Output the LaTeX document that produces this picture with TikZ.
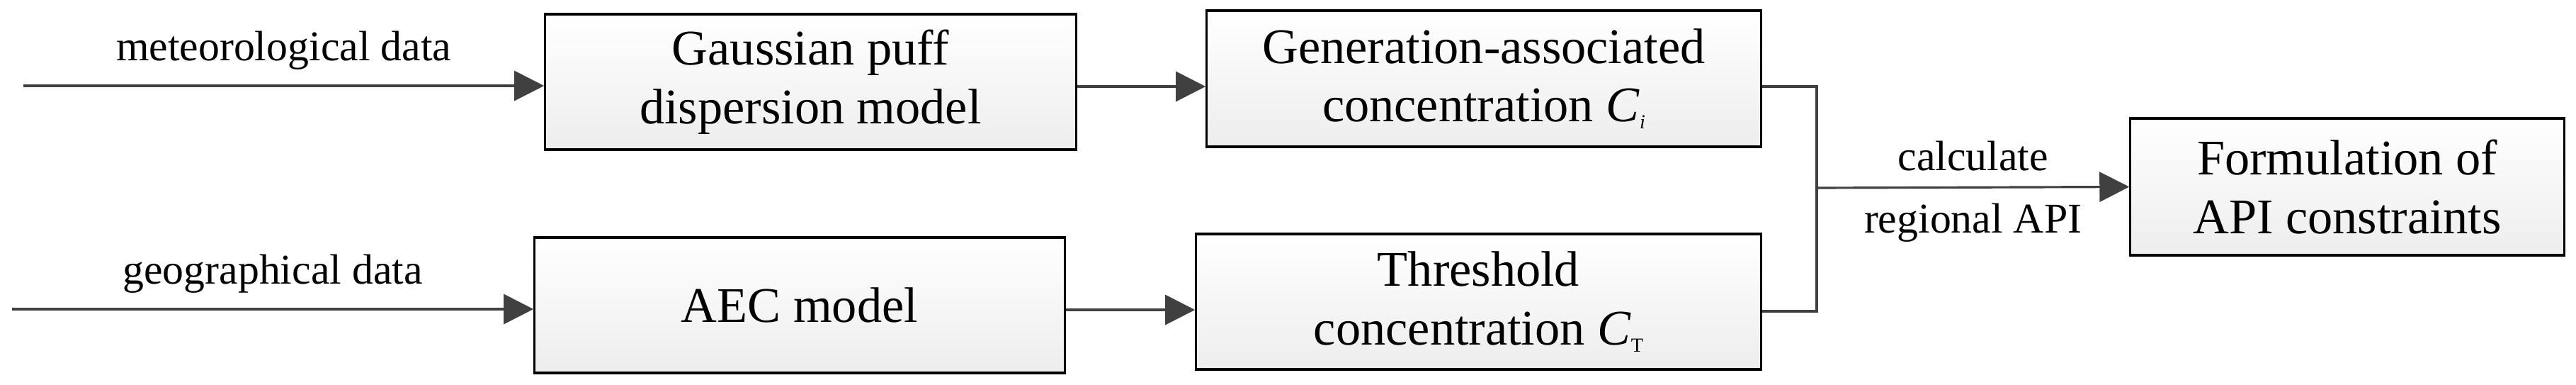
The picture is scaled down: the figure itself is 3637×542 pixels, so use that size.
\documentclass[tikz,border=0pt]{standalone}
\usepackage{fontspec}
\setmainfont{Liberation Serif}
\usetikzlibrary{arrows.meta,shadings}
\begin{document}
\begin{tikzpicture}[x=0.01cm,y=-0.01cm,
  blk/.style={draw=black,line width=0.9pt,top color=white,bottom color=black!7,
    align=center,inner sep=0pt,font=\fontsize{20}{23.5}\selectfont},
  arr/.style={draw=black!75,line width=0.9pt,-{Triangle[length=0.42cm,width=0.42cm]}},
  ln/.style={draw=black!75,line width=0.9pt},
  lbl/.style={font=\fontsize{17}{20}\selectfont,inner sep=2pt}]
\useasboundingbox (0,0) rectangle (3637,542);
\node[blk,minimum width=7.49cm,minimum height=1.91cm] (gp) at (1144.5,115.5) {Gaussian puff\\dispersion model};
\node[blk,minimum width=7.48cm,minimum height=1.91cm] (aec) at (1129,430.5) {AEC model};
\node[blk,minimum width=7.82cm,minimum height=1.92cm] (gen) at (2095,111) {Generation-associated\\concentration \textit{C}\raisebox{-0.3ex}{\footnotesize\textit{i}}};
\node[blk,minimum width=7.97cm,minimum height=1.91cm] (thr) at (2087.5,425.5) {Threshold\\concentration \textit{C}\raisebox{-0.3ex}{\footnotesize T}};
\node[blk,minimum width=6.12cm,minimum height=1.93cm] (form) at (3314,263.5) {Formulation of\\API constraints};
\coordinate (m) at (33,121);
\coordinate (g) at (17,436);
\coordinate (j) at (2565,265);
\draw[arr] (m) -- (m -| gp.west) node[lbl,midway,above=4pt] {meteorological data};
\draw[arr] (g) -- (g -| aec.west) node[lbl,midway,above=4pt] {geographical data};
\draw[arr] (gp.east |- 0,122) -- (gen.west |- 0,122);
\draw[arr] (aec.east |- 0,437) -- (thr.west |- 0,437);
\draw[ln] (gen.east |- 0,122) -| (j) |- (thr.east |- 0,439);
\draw[arr] (j) -- (form.west) node[lbl,midway,above=4pt] {calculate} node[lbl,midway,below=4pt] {regional API};
\end{tikzpicture}
\end{document}
